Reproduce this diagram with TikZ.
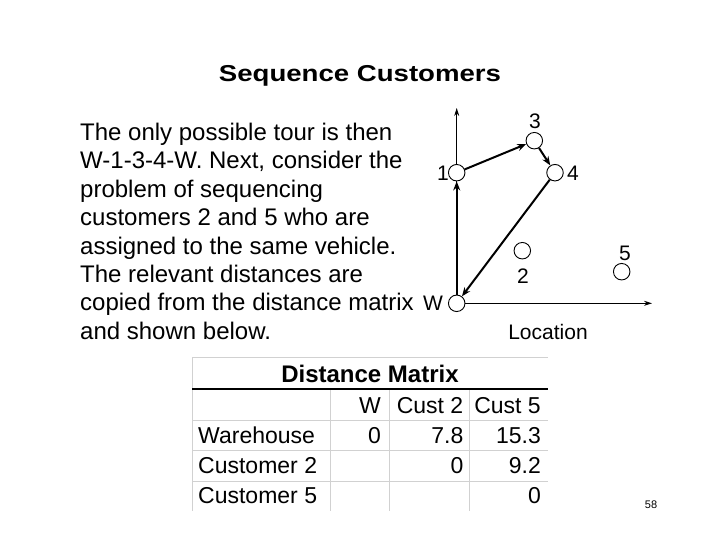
\documentclass[tikz,border=0pt]{standalone}
\usepackage{fontspec}
\setmainfont{Liberation Sans}
\newfontfamily\titlefont[FakeStretch=1.2]{Liberation Sans Bold}
\usetikzlibrary{arrows.meta,backgrounds}
\begin{document}
\begin{tikzpicture}[x=1pt,y=-1pt,
  body/.style={inner sep=0pt, align=left, font=\fontsize{24}{28.4}\selectfont},
  lbl/.style={inner sep=0pt, font=\fontsize{21}{25}\selectfont},
  pt/.style={circle, draw, fill=white, minimum size=16.5pt, inner sep=0pt, line width=0.9pt},
  axis/.style={line width=0.9pt, -{Stealth[length=8pt,width=5pt]}},
  tour/.style={line width=2pt, -{Stealth[length=9pt,width=7pt]}},
  cell/.style={inner sep=0pt, font=\fontsize{23}{27}\selectfont, anchor=base east},
  rowlbl/.style={inner sep=0pt, font=\fontsize{23}{27}\selectfont, anchor=base west},
  gridline/.style={draw=black!18, line width=0.8pt}]
\useasboundingbox (0,0) rectangle (720,540);

% title
\node[anchor=base, inner sep=0pt] (title) at (360,82)
  {\titlefont\fontsize{23}{28}\selectfont Sequence Customers};

% body text
\node[body, anchor=north west] (bodytext) at (80,123)
  {The only possible tour is then\\
   W-1-3-4-W. Next, consider the\\
   problem of sequencing\\
   customers 2 and 5 who are\\
   assigned to the same vehicle.\\
   The relevant distances are\\
   copied from the distance matrix\\
   and shown below.};

% graph
\node[pt] (W)  at (456.7,303.3) {};
\node[pt] (n1) at (456.7,172.7) {};
\node[pt] (n3) at (534.3,140.7) {};
\node[pt] (n4) at (555,172.7) {};
\node[pt] (n2) at (522.3,250.7) {};
\node[pt] (n5) at (621.7,271.7) {};
\coordinate (ytop) at (456.7,108);
\coordinate (xend) at (652,303.3);
\begin{scope}[on background layer]
  \draw[axis] (W) -- (ytop);
  \draw[axis] (W) -- (xend);
\end{scope}
\draw[tour] (W) -- (n1);
\draw[tour] (n1) -- (n3);
\draw[tour] (n3) -- (n4);
\draw[tour] (n4) -- (W);

\node[lbl] (lW) at (433,303.3) {W};
\node[lbl] (l1) at (443,173) {1};
\node[lbl] (l3) at (535,121.5) {3};
\node[lbl] (l4) at (573,173) {4};
\node[lbl] (l2) at (523,276) {2};
\node[lbl] (l5) at (625,253) {5};
\node[lbl] (loc) at (548,332) {Location};

% table
\draw[gridline] (192,357) -- (548,357);
\foreach \yy in {420,450,481} \draw[gridline] (192,\yy) -- (548,\yy);
\draw[gridline] (192,357) -- (192,511);
\foreach \xx in {330.7,389.3,469.3} \draw[gridline] (\xx,389) -- (\xx,511);
\draw[line width=1.3pt] (192,389) -- (548,389);

\node[anchor=base, inner sep=0pt, font=\bfseries\fontsize{24}{28}\selectfont] (dm) at (370,382) {Distance Matrix};
\node[cell] (hW) at (381,413) {W};
\node[cell] (hC2) at (463.5,413) {Cust 2};
\node[cell] (hC5) at (541,413) {Cust 5};
\node[rowlbl] (rW) at (198,443) {Warehouse};
\node[rowlbl] (rC2) at (198,473) {Customer 2};
\node[rowlbl] (rC5) at (198,503) {Customer 5};
\node[cell] (v11) at (381,443) {0};
\node[cell] (v12) at (463.5,443) {7.8};
\node[cell] (v13) at (541,443) {15.3};
\node[cell] (v22) at (463.5,473) {0};
\node[cell] (v23) at (541,473) {9.2};
\node[cell] (v33) at (541,503) {0};

\node[inner sep=0pt, font=\fontsize{11}{13}\selectfont] (page) at (651,505) {58};
\end{tikzpicture}
\end{document}
